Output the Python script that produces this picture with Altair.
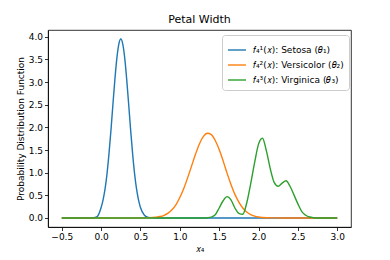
import altair as alt
import pandas as pd

# Values
setosa_x = [-0.5, -0.15, -0.1, -0.05, 0.0, 0.025, 0.05, 0.075, 0.1, 0.125, 0.15, 0.175, 0.2,
            0.225, 0.25, 0.275, 0.3, 0.325, 0.35, 0.375, 0.4, 0.425, 0.45, 0.475, 0.5,
            0.55, 0.6, 0.65, 0.7, 3.0]
setosa_y = [0.0, 0.0, 0.003, 0.03, 0.23, 0.40, 0.64, 0.98, 1.42, 1.94, 2.51, 3.06, 3.53,
            3.84, 3.95, 3.84, 3.53, 3.06, 2.51, 1.94, 1.42, 0.98, 0.64, 0.40, 0.23,
            0.06, 0.01, 0.002, 0.0, 0.0]

versicolor_x = [-0.5, 0.5, 0.6, 0.7, 0.75, 0.8, 0.85, 0.9, 0.95, 1.0, 1.05, 1.1, 1.15, 1.2,
                1.25, 1.3, 1.35, 1.4, 1.45, 1.5, 1.55, 1.6, 1.65, 1.7, 1.75, 1.8, 1.85,
                1.9, 1.95, 2.0, 2.1, 2.2, 2.3, 3.0]
versicolor_y = [0.0, 0.0, 0.003, 0.015, 0.031, 0.059, 0.106, 0.18, 0.29, 0.45, 0.65, 0.89,
                1.15, 1.41, 1.64, 1.80, 1.87, 1.84, 1.71, 1.51, 1.26, 0.99, 0.74, 0.52,
                0.35, 0.22, 0.13, 0.075, 0.04, 0.02, 0.004, 0.001, 0.0, 0.0]

virginica_x = [-0.5, 1.3, 1.35, 1.4, 1.45, 1.5, 1.55, 1.6, 1.65, 1.7, 1.75, 1.8, 1.85, 1.9,
               1.95, 2.0, 2.05, 2.1, 2.15, 2.2, 2.25, 2.3, 2.35, 2.4, 2.45, 2.5, 2.55,
               2.6, 2.65, 2.7, 2.75, 3.0]
virginica_y = [0.0, 0.0, 0.005, 0.02, 0.07, 0.22, 0.38, 0.47, 0.40, 0.22, 0.10, 0.08, 0.33,
               0.75, 1.22, 1.63, 1.76, 1.48, 1.08, 0.78, 0.70, 0.77, 0.82, 0.70, 0.51,
               0.31, 0.14, 0.06, 0.02, 0.005, 0.0, 0.0]

labels = ["\U0001D453\u2084\u00b9(\U0001D465): Setosa (\U0001D703\u2081)",
          "\U0001D453\u2084\u00b2(\U0001D465): Versicolor (\U0001D703\u2082)",
          "\U0001D453\u2084\u00b3(\U0001D465): Virginica (\U0001D703\u2083)"]
colors = ["#1f77b4", "#ff7f0e", "#2ca02c"]

x_ticks = [-0.5, 0.0, 0.5, 1.0, 1.5, 2.0, 2.5, 3.0]
y_ticks = [0.0, 0.5, 1.0, 1.5, 2.0, 2.5, 3.0, 3.5, 4.0]

rows = []
for i, (xs, ys) in enumerate([(setosa_x, setosa_y), (versicolor_x, versicolor_y),
                              (virginica_x, virginica_y)]):
    for xv, yv in zip(xs, ys):
        rows.append({"x": xv, "y": yv, "species": labels[i], "order": i})
df = pd.DataFrame(rows)

FONT = "DejaVu Sans"

chart = alt.Chart(df).mark_line(strokeWidth=1.4, interpolate="monotone", clip=True).encode(
    x=alt.X("x:Q", scale=alt.Scale(domain=[-0.675, 3.175], nice=False, zero=False),
            axis=alt.Axis(values=x_ticks, format=".1f", title="\U0001D465\u2084")),
    y=alt.Y("y:Q", scale=alt.Scale(domain=[-0.2, 4.15], nice=False, zero=False),
            axis=alt.Axis(values=y_ticks, format=".1f",
                          title="Probability Distribution Function")),
    color=alt.Color("species:N", scale=alt.Scale(domain=labels, range=colors),
                    legend=alt.Legend(title=None, orient="none", legendX=174, legendY=5,
                                      symbolType="stroke", symbolSize=324,
                                      symbolStrokeWidth=1.4, labelFontSize=9,
                                      labelFont=FONT, labelColor="black",
                                      padding=5, rowPadding=-3, labelOffset=6,
                                      fillColor="white", strokeColor="#cccccc",
                                      cornerRadius=3)),
    detail="order:O",
    order="order:O",
).properties(
    width=303, height=197,
    title=alt.TitleParams("Petal Width", fontSize=11, font=FONT, fontWeight="normal",
                          color="black", offset=5),
    autosize=alt.AutoSizeParams(type="none"),
    padding={"left": 40, "top": 22, "right": 25, "bottom": 30},
).configure_axis(
    labelFont=FONT, labelFontSize=9, labelColor="black", tickColor="black",
    tickSize=3.5, tickWidth=0.8, domainColor="black", domainWidth=0.8, grid=False,
    labelPadding=2, titleFont=FONT, titleFontSize=9, titleFontWeight="normal",
    titleColor="black", titlePadding=3,
).configure_view(stroke="black", strokeWidth=0.8)

chart.save("out.html", embed_options={"renderer": "svg", "actions": False})
